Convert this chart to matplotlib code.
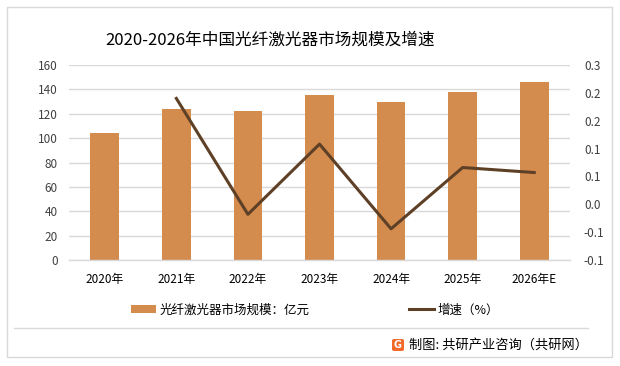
import matplotlib
matplotlib.use("Agg")
import matplotlib.pyplot as plt
from matplotlib.patches import Rectangle, FancyBboxPatch
from matplotlib.lines import Line2D
import numpy as np

plt.rcParams['font.family'] = ['Noto Sans CJK SC', 'DejaVu Sans']

categories = ["2020年", "2021年", "2022年", "2023年", "2024年", "2025年", "2026年E"]
market_size = [104, 124, 122, 135.5, 130, 138, 146]
growth_years = ["2021年", "2022年", "2023年", "2024年", "2025年", "2026年E"]
growth_rate = [0.19, -0.018, 0.108, -0.044, 0.066, 0.057]
left_ticks = [0, 20, 40, 60, 80, 100, 120, 140, 160]
right_ticks = [-0.1, -0.05, 0.0, 0.05, 0.1, 0.15, 0.2, 0.25]
right_tick_labels = ["-0.1", "-0.1", "0.0", "0.1", "0.1", "0.2", "0.2", "0.3"]

title = "2020-2026年中国光纤激光器市场规模及增速"
bar_label = "光纤激光器市场规模：亿元"
line_label = "增速（%）"
source = "制图: 共研产业咨询（共研网）"

bar_color = "#D38B4E"
line_color = "#5E4027"
grid_color = "#D9D9D9"
text_color = "#404040"

W, H = 620, 366
fig = plt.figure(figsize=(W / 100, H / 100), dpi=100)

def fx(px):
    return px / W

def fy(py):
    return 1 - py / H

# outer frame and separator
fig.patches.append(Rectangle((fx(7), fy(357)), fx(612) - fx(7), fy(7) - fy(357),
                             transform=fig.transFigure, fill=False,
                             edgecolor="#D9D9D9", linewidth=1.0))
fig.lines.append(Line2D([fx(14), fx(588)], [fy(328), fy(328)],
                        transform=fig.transFigure, color="#D9D9D9", linewidth=1.0))

ax = fig.add_axes([fx(69), fy(260), fx(570) - fx(69), fy(65) - fy(260)])
x = np.arange(len(categories))
ax.bar(x, market_size, width=0.4, color=bar_color, zorder=2)
ax.set_ylim(0, 160)
ax.set_yticks(left_ticks)
ax.set_xlim(-0.5, len(categories) - 0.5)
ax.set_xticks(x)
ax.set_xticklabels(categories, fontsize=8.5, color="#000000")
ax.tick_params(axis='x', length=0, pad=9)
ax.tick_params(axis='y', length=0, labelsize=8.5, labelcolor=text_color, pad=8)
ax.yaxis.grid(True, color=grid_color, linewidth=1.0, zorder=0)
ax.set_axisbelow(True)
for s in ["top", "right", "left"]:
    ax.spines[s].set_visible(False)
ax.spines["bottom"].set_color(grid_color)
ax.spines["bottom"].set_linewidth(1.0)

ax2 = ax.twinx()
gx = [categories.index(c) for c in growth_years]
ax2.plot(gx, growth_rate, color=line_color, linewidth=2.2, zorder=3)
ax2.set_ylim(-0.1, 0.25)
ax2.set_yticks(right_ticks)
ax2.set_yticklabels(right_tick_labels)
ax2.tick_params(axis='y', length=0, labelsize=8.5, labelcolor=text_color, pad=10)
for s in ["top", "right", "left", "bottom"]:
    ax2.spines[s].set_visible(False)

fig.text(fx(270), fy(40), title, ha="center", va="center", fontsize=12.0, color="#000000")

handles = [Rectangle((0, 0), 1, 1, facecolor=bar_color, edgecolor="none"),
           Line2D([0], [0], color=line_color, linewidth=2.2)]
fig.legend(handles, [bar_label, line_label], loc="center", ncol=2,
           bbox_to_anchor=(fx(315), fy(310)), frameon=False, fontsize=9,
           handlelength=2.0, handleheight=0.6, handletextpad=0.3,
           columnspacing=8.0)

# source logo and text
fig.patches.append(FancyBboxPatch((fx(392), fy(351)), fx(12), fy(339) - fy(351),
                                  boxstyle="round,pad=0,rounding_size=0.004",
                                  transform=fig.transFigure, facecolor="#F26A2A",
                                  edgecolor="none"))
fig.text(fx(398), fy(345), "G", ha="center", va="center", fontsize=7,
         color="white", fontweight="bold", family="DejaVu Sans")
fig.text(fx(409), fy(345), source, ha="left", va="center", fontsize=9.5, color="#000000")

fig.savefig("out.png", dpi=100)
